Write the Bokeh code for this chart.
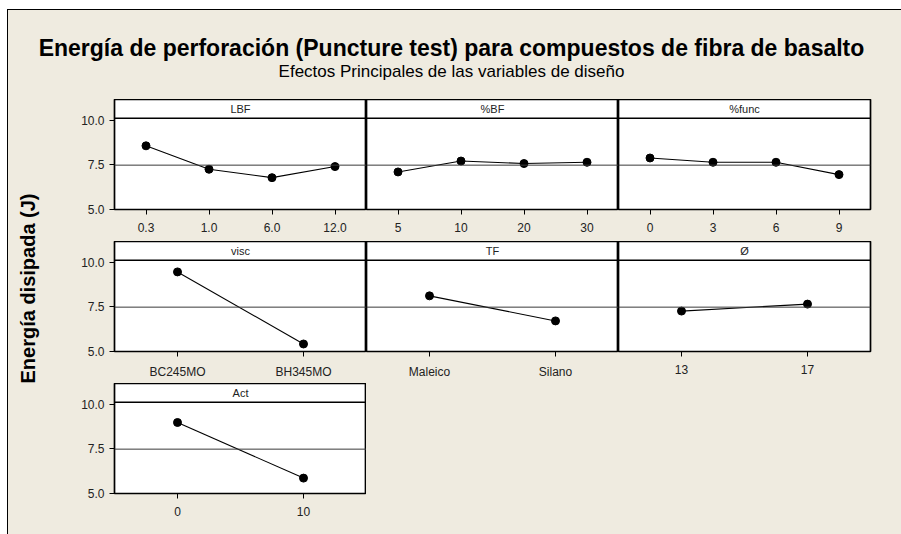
from bokeh.plotting import figure
from bokeh.models import Range1d, FactorRange, Label, Span, FixedTicker, PrintfTickFormatter
from bokeh.layouts import row, column
from bokeh.embed import file_html
from bokeh.resources import INLINE

# ---------------- data ----------------
title_text = "Energía de perforación (Puncture test) para compuestos de fibra de basalto"
subtitle_text = "Efectos Principales de las variables de diseño"
ylabel_text = "Energía disipada (J)"

lbf_levels = ["0.3", "1.0", "6.0", "12.0"]
lbf_means = [8.56, 7.25, 6.78, 7.40]
bf_levels = ["5", "10", "20", "30"]
bf_means = [7.10, 7.71, 7.57, 7.64]
func_levels = ["0", "3", "6", "9"]
func_means = [7.88, 7.64, 7.64, 6.95]
visc_levels = ["BC245MO", "BH345MO"]
visc_means = [9.45, 5.42]
tf_levels = ["Maleico", "Silano"]
tf_means = [8.11, 6.71]
diam_levels = ["13", "17"]
diam_means = [7.26, 7.65]
act_levels = ["0", "10"]
act_means = [8.97, 5.86]

grand_mean = 7.48
y_ticks = [5.0, 7.5, 10.0]
y_lo, y_hi = 5.0, 11.15
header_line = 10.1

BG = "#EFEBE0"
FONT = "Liberation Sans"


def base_fig(w, h, **kw):
    p = figure(width=w, height=h, output_backend="svg", toolbar_location=None,
               min_border=0, **kw)
    p.border_fill_color = BG
    return p


def make_panel(label, levels, means, w, h, left, right, bottom):
    p = base_fig(w, h, x_range=FactorRange(*levels), y_range=Range1d(y_lo, y_hi),
                 y_axis_location="left" if left else None)
    p.min_border_left = left
    p.min_border_right = right
    p.min_border_bottom = bottom
    p.min_border_top = 0
    p.background_fill_color = "white"
    p.outline_line_color = "black"
    p.outline_line_width = 1.7
    p.grid.visible = False

    p.xaxis.axis_line_color = None
    p.xaxis.major_tick_out = 5
    p.xaxis.major_tick_in = 0
    p.xaxis.major_tick_line_color = "black"
    p.xaxis.major_label_text_font = FONT
    p.xaxis.major_label_text_font_size = "12px"
    p.xaxis.major_label_text_color = "#222222"
    p.xaxis.major_label_standoff = 8
    if left:
        p.yaxis.ticker = FixedTicker(ticks=y_ticks)
        p.yaxis.formatter = PrintfTickFormatter(format="%.1f")
        p.yaxis.axis_line_color = None
        p.yaxis.minor_tick_line_color = None
        p.yaxis.major_tick_out = 5
        p.yaxis.major_tick_in = 0
        p.yaxis.major_tick_line_color = "black"
        p.yaxis.major_label_text_font = FONT
        p.yaxis.major_label_text_font_size = "12px"
        p.yaxis.major_label_text_color = "#222222"
        p.yaxis.major_label_standoff = 5

    p.add_layout(Span(location=grand_mean, dimension="width", line_color="#3a3a3a", line_width=1))
    p.add_layout(Span(location=header_line, dimension="width", line_color="black", line_width=1.5))
    # centre of the categorical range in synthetic coordinates
    p.add_layout(Label(x=len(levels) / 2, y=(header_line + y_hi) / 2, text=label,
                       text_align="center", text_baseline="middle", text_font=FONT,
                       text_font_size="11px", text_color="#222222"))

    p.line(levels, means, line_color="black", line_width=1.1)
    p.scatter(levels, means, size=8, color="black")
    return p


# header with titles
W, H_HEAD = 893, 89
header = base_fig(W, H_HEAD, x_range=Range1d(0, W), y_range=Range1d(H_HEAD, 0),
                  x_axis_location=None, y_axis_location=None)
header.background_fill_color = BG
header.outline_line_color = None
header.grid.visible = False
header.add_layout(Label(x=443, y=37, text=title_text, text_align="center",
                        text_baseline="middle", text_font=FONT, text_font_style="bold",
                        text_font_size="23px", text_color="black"))
header.add_layout(Label(x=443, y=61, text=subtitle_text, text_align="center",
                        text_baseline="middle", text_font=FONT,
                        text_font_size="17px", text_color="black"))

# left y label
LW, LH = 52, 435
leftfig = base_fig(LW, LH, x_range=Range1d(0, LW), y_range=Range1d(LH, 0),
                   x_axis_location=None, y_axis_location=None)
leftfig.background_fill_color = BG
leftfig.outline_line_color = None
leftfig.grid.visible = False
leftfig.add_layout(Label(x=19, y=189, text=ylabel_text, angle=90, angle_units="deg",
                         text_align="center", text_baseline="middle", text_font=FONT,
                         text_font_style="bold", text_font_size="20px", text_color="black"))

p1 = make_panel("LBF", lbf_levels, lbf_means, 306, 142, 54, 0, 32)
p2 = make_panel("%BF", bf_levels, bf_means, 252, 142, 0, 0, 32)
p3 = make_panel("%func", func_levels, func_means, 283, 142, 0, 31, 32)
p4 = make_panel("visc", visc_levels, visc_means, 306, 142, 54, 0, 32)
p5 = make_panel("TF", tf_levels, tf_means, 252, 142, 0, 0, 32)
p6 = make_panel("Ø", diam_levels, diam_means, 283, 142, 0, 31, 32)
p7 = make_panel("Act", act_levels, act_means, 306, 151, 54, 0, 41)

filler = base_fig(535, 151, x_range=Range1d(0, 1), y_range=Range1d(0, 1),
                  x_axis_location=None, y_axis_location=None)
filler.background_fill_color = BG
filler.outline_line_color = None
filler.grid.visible = False

grid = column(row(p1, p2, p3), row(p4, p5, p6), row(p7, filler))
layout = column(header, row(leftfig, grid),
                styles={"background-color": BG, "border-left": "1px solid black",
                        "border-top": "1px solid black",
                        "margin-left": "7px", "margin-top": "9px"})

open("out.html", "w").write(file_html(layout, INLINE))
